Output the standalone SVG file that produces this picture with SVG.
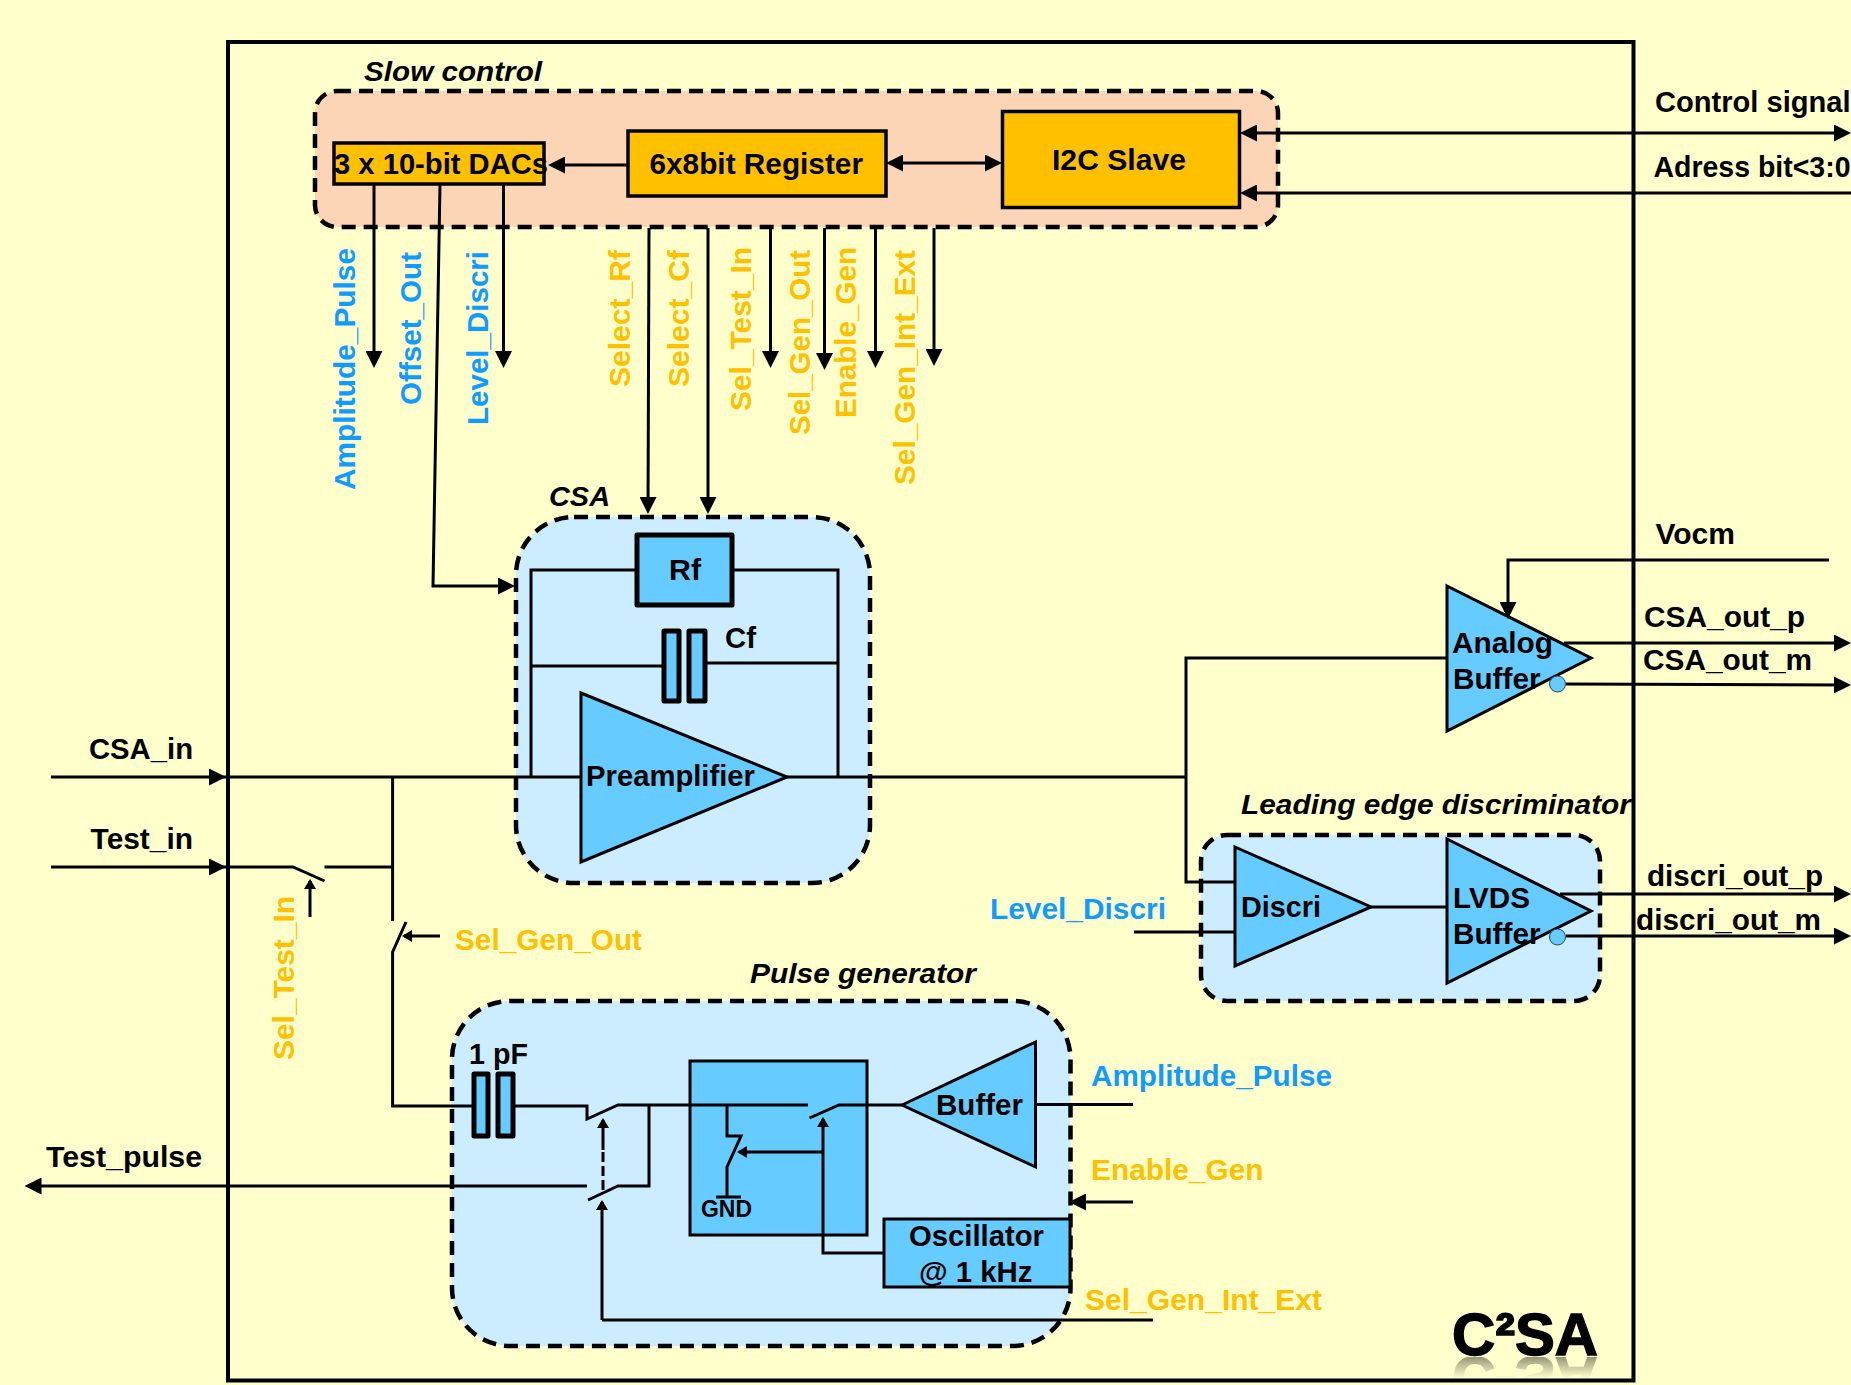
<svg xmlns="http://www.w3.org/2000/svg" xmlns:xlink="http://www.w3.org/1999/xlink" width="1851" height="1385" viewBox="0 0 1851 1385">
<style>
text{font-family:"Liberation Sans",Arial,sans-serif;font-weight:700;fill:#000;font-size:29px}
.i{font-style:italic;font-size:28px}
.blue{fill:#0F9BFF}
.org{fill:#FFC000}
.dash{stroke:#000;stroke-width:4.5;stroke-dasharray:14 8}
.blk{fill:#66CCFF;stroke:#000;stroke-width:3}
.inv{fill:#66CCFF;stroke:#1a4a66;stroke-width:1}
.reg{fill:#FFC000;stroke:#000;stroke-width:3.5}
.thick{fill:#66CCFF;stroke:#000;stroke-width:5;stroke-linejoin:round}
#connectors path{fill:none;stroke:#000;stroke-width:3}
.a{marker-end:url(#big)}
.ab{marker-start:url(#big);marker-end:url(#big)}
.as{marker-start:url(#big)}
.s{marker-end:url(#small)}
</style>
<defs>
<marker id="big" markerUnits="userSpaceOnUse" markerWidth="17" markerHeight="17" refX="13" refY="8.5" orient="auto-start-reverse"><path d="M0,0L17,8.5L0,17z" fill="#000"/></marker>
<marker id="small" markerUnits="userSpaceOnUse" markerWidth="10" markerHeight="12" refX="8" refY="6" orient="auto-start-reverse"><path d="M0,0L10,6L0,12z" fill="#000"/></marker>
<linearGradient id="fade" x1="0" y1="1355" x2="0" y2="1378" gradientUnits="userSpaceOnUse"><stop offset="0" stop-color="#fff" stop-opacity=".45"/><stop offset="1" stop-color="#fff" stop-opacity="0"/></linearGradient>
<mask id="fm" maskUnits="userSpaceOnUse" x="1440" y="1357" width="170" height="23"><rect x="1440" y="1357" width="170" height="23" fill="url(#fade)"/></mask>
</defs>
<rect width="1851" height="1385" fill="#FFFFCC"/>
<rect id="frame" x="228" y="42" width="1405.5" height="1338.5" fill="none" stroke="#000" stroke-width="4"/>

<g id="slow-control">
<rect class="dash" x="315" y="91" width="963" height="136" rx="22" fill="#FBD5B5"/>
<text class="i" x="364" y="81" textLength="178" lengthAdjust="spacingAndGlyphs">Slow control</text>
</g>
<g id="dacs">
<rect class="reg" x="334" y="143" width="210" height="41"/>
<text x="334" y="174" textLength="214" lengthAdjust="spacingAndGlyphs">3 x 10-bit DACs</text>
</g>
<g id="register">
<rect class="reg" x="628" y="131" width="258" height="65"/>
<text x="649.5" y="174" textLength="213.5" lengthAdjust="spacingAndGlyphs">6x8bit Register</text>
</g>
<g id="i2c-slave">
<rect class="reg" x="1002.5" y="111.5" width="237" height="96"/>
<text x="1052" y="170" textLength="134" lengthAdjust="spacingAndGlyphs">I2C Slave</text>
</g>

<g id="csa">
<rect class="dash" x="516" y="517" width="354" height="366" rx="58" fill="#CCECFF"/>
<text class="i" x="549" y="506" textLength="61" lengthAdjust="spacingAndGlyphs">CSA</text>
</g>
<g id="rf">
<rect class="thick" x="637" y="535" width="95" height="70"/>
<text x="669" y="580" textLength="32" lengthAdjust="spacingAndGlyphs">Rf</text>
</g>
<g id="cf">
<rect class="thick" x="664" y="631" width="15" height="70"/>
<rect class="thick" x="689" y="631" width="16" height="70"/>
<text x="725" y="648" textLength="31" lengthAdjust="spacingAndGlyphs">Cf</text>
</g>
<g id="preamplifier">
<polygon class="blk" points="581,693 787,777 581,862"/>
<text x="586" y="786" textLength="169" lengthAdjust="spacingAndGlyphs">Preamplifier</text>
</g>

<g id="analog-buffer">
<polygon class="blk" points="1447,586 1591,658 1447,731"/>
<circle class="inv" cx="1557.5" cy="684" r="8"/>
<text x="1452" y="653" textLength="101" lengthAdjust="spacingAndGlyphs">Analog</text>
<text x="1453" y="689" textLength="87.5" lengthAdjust="spacingAndGlyphs">Buffer</text>
</g>

<g id="discriminator">
<rect class="dash" x="1201" y="835" width="399" height="166" rx="26" fill="#CCECFF"/>
<text class="i" x="1241" y="814" textLength="390" lengthAdjust="spacingAndGlyphs">Leading edge discriminator</text>
</g>
<g id="discri">
<polygon class="blk" points="1235,847 1371,907 1235,966"/>
<text x="1241" y="917" textLength="80" lengthAdjust="spacingAndGlyphs">Discri</text>
</g>
<g id="lvds-buffer">
<polygon class="blk" points="1447,839 1591,911 1447,983"/>
<circle class="inv" cx="1557.5" cy="937" r="8"/>
<text x="1453" y="908" textLength="77" lengthAdjust="spacingAndGlyphs">LVDS</text>
<text x="1453" y="944" textLength="87.5" lengthAdjust="spacingAndGlyphs">Buffer</text>
</g>

<g id="pulse-generator">
<rect class="dash" x="452" y="1001" width="618.5" height="345" rx="58" fill="#CCECFF"/>
<text class="i" x="750" y="983" textLength="226" lengthAdjust="spacingAndGlyphs">Pulse generator</text>
</g>
<g id="cap-1pf">
<rect class="thick" x="474" y="1074" width="14" height="62"/>
<rect class="thick" x="498" y="1074" width="15" height="62"/>
<text x="469" y="1064" textLength="59" lengthAdjust="spacingAndGlyphs">1 pF</text>
</g>
<g id="switch-block">
<rect class="blk" x="690" y="1061" width="177" height="174"/>
<text x="701" y="1217" style="font-size:24px" textLength="51" lengthAdjust="spacingAndGlyphs">GND</text>
</g>
<g id="buffer">
<polygon class="blk" points="902,1105 1035.5,1042 1035.5,1167"/>
<text x="936" y="1115" textLength="87" lengthAdjust="spacingAndGlyphs">Buffer</text>
</g>
<g id="oscillator">
<rect class="blk" x="884" y="1219" width="186" height="68"/>
<text x="909" y="1246" textLength="135" lengthAdjust="spacingAndGlyphs">Oscillator</text>
<text x="919" y="1282" textLength="113.5" lengthAdjust="spacingAndGlyphs">@ 1 kHz</text>
</g>

<g id="connectors">
<path class="a" d="M374 184V364"/>
<path class="a" d="M440 184L433 586H511"/>
<path class="a" d="M503.5 184V364"/>
<path class="a" d="M649 228L648 510"/>
<path class="a" d="M708 228V510"/>
<path class="a" d="M770.5 228V364"/>
<path class="a" d="M824.5 228V366"/>
<path class="a" d="M875.5 228V364"/>
<path class="a" d="M934 228V362"/>
<path class="a" d="M628 165H552"/>
<path class="ab" d="M890 163H998"/>
<path class="ab" d="M1244 133H1847"/>
<path class="as" d="M1244 193H1851"/>
<path class="a" d="M51 777H222"/>
<path d="M222 777H581"/>
<path d="M787 777H1186"/>
<path d="M1447 658H1186V882H1235"/>
<path class="a" d="M1829 560H1508V615"/>
<path class="a" d="M1564 643H1847"/>
<path class="a" d="M1566 684L1847 685"/>
<path class="a" d="M1560 894H1847"/>
<path class="a" d="M1566 936H1847"/>
<path d="M1370 907H1447"/>
<path d="M1134 932H1235"/>
<path d="M531 776V570H637"/>
<path d="M732 570H838V776"/>
<path d="M531 666H664"/>
<path d="M705 663H838"/>
<path class="a" d="M51 867H222"/>
<path d="M222 867H293L324.5 881"/>
<path d="M324.5 867H392.6"/>
<path d="M392.6 777V921"/>
<path d="M406 922L392.6 952V1106H474"/>
<path d="M513 1106H587V1119L618 1105H808"/>
<path d="M809.5 1118L839 1105H903"/>
<path d="M649 1105V1186H618L588 1200"/>
<path class="a" d="M587 1186H28.5"/>
<path d="M727 1105V1136H741L727 1167V1197"/>
<path d="M716 1197H741"/>
<path class="s" d="M884 1253H823V1119"/>
<path class="s" d="M823 1152H739"/>
<path d="M1153 1320H602"/>
<path class="s" d="M602 1320V1202"/>
<path stroke-dasharray="10 4" d="M603 1190V1150"/>
<path class="s" d="M603 1150V1120"/>
<path d="M1037 1104.5H1133"/>
<path class="a" d="M1133 1202H1073"/>
<path class="s" d="M440 936H404"/>
<path class="s" d="M310 917V881"/>
</g>

<g id="signal-labels">
<text x="1655" y="112" textLength="195.5" lengthAdjust="spacingAndGlyphs">Control signal</text>
<text x="1653.5" y="177" textLength="197" lengthAdjust="spacingAndGlyphs">Adress bit&lt;3:0</text>
<text x="1655.5" y="544" textLength="79.5" lengthAdjust="spacingAndGlyphs">Vocm</text>
<text x="1644" y="627" textLength="161" lengthAdjust="spacingAndGlyphs">CSA_out_p</text>
<text x="1643" y="670" textLength="169" lengthAdjust="spacingAndGlyphs">CSA_out_m</text>
<text x="1647" y="886" textLength="176" lengthAdjust="spacingAndGlyphs">discri_out_p</text>
<text x="1636" y="930" textLength="185" lengthAdjust="spacingAndGlyphs">discri_out_m</text>
<text x="89" y="759" textLength="104" lengthAdjust="spacingAndGlyphs">CSA_in</text>
<text x="90.6" y="849" textLength="102.4" lengthAdjust="spacingAndGlyphs">Test_in</text>
<text x="46" y="1167" textLength="156" lengthAdjust="spacingAndGlyphs">Test_pulse</text>
<text class="blue" x="990" y="919" textLength="176" lengthAdjust="spacingAndGlyphs">Level_Discri</text>
<text class="blue" x="1091" y="1086" textLength="241" lengthAdjust="spacingAndGlyphs">Amplitude_Pulse</text>
<text class="org" x="1091" y="1180" textLength="172.6" lengthAdjust="spacingAndGlyphs">Enable_Gen</text>
<text class="org" x="1085" y="1310" textLength="237" lengthAdjust="spacingAndGlyphs">Sel_Gen_Int_Ext</text>
<text class="org" x="455" y="950" textLength="187" lengthAdjust="spacingAndGlyphs">Sel_Gen_Out</text>
<text class="blue" transform="translate(355,490) rotate(-90)" textLength="242" lengthAdjust="spacingAndGlyphs">Amplitude_Pulse</text>
<text class="blue" transform="translate(421,405) rotate(-90)" textLength="153" lengthAdjust="spacingAndGlyphs">Offset_Out</text>
<text class="blue" transform="translate(488,425) rotate(-90)" textLength="174" lengthAdjust="spacingAndGlyphs">Level_Discri</text>
<text class="org" transform="translate(630,387) rotate(-90)" textLength="137" lengthAdjust="spacingAndGlyphs">Select_Rf</text>
<text class="org" transform="translate(688.5,387) rotate(-90)" textLength="137" lengthAdjust="spacingAndGlyphs">Select_Cf</text>
<text class="org" transform="translate(751,411) rotate(-90)" textLength="164" lengthAdjust="spacingAndGlyphs">Sel_Test_In</text>
<text class="org" transform="translate(810,435) rotate(-90)" textLength="185" lengthAdjust="spacingAndGlyphs">Sel_Gen_Out</text>
<text class="org" transform="translate(856,418) rotate(-90)" textLength="171" lengthAdjust="spacingAndGlyphs">Enable_Gen</text>
<text class="org" transform="translate(915,485) rotate(-90)" textLength="235" lengthAdjust="spacingAndGlyphs">Sel_Gen_Int_Ext</text>
<text class="org" transform="translate(294,1060) rotate(-90)" textLength="164" lengthAdjust="spacingAndGlyphs">Sel_Test_In</text>
</g>

<g id="logo">
<text id="c2sa" x="1452" y="1355" style="font-size:60px;stroke:#000;stroke-width:1.5" textLength="146" lengthAdjust="spacingAndGlyphs">C²SA</text>
<g mask="url(#fm)"><use href="#c2sa" xlink:href="#c2sa" transform="translate(0,2712) scale(1,-1)"/></g>
</g>
</svg>
